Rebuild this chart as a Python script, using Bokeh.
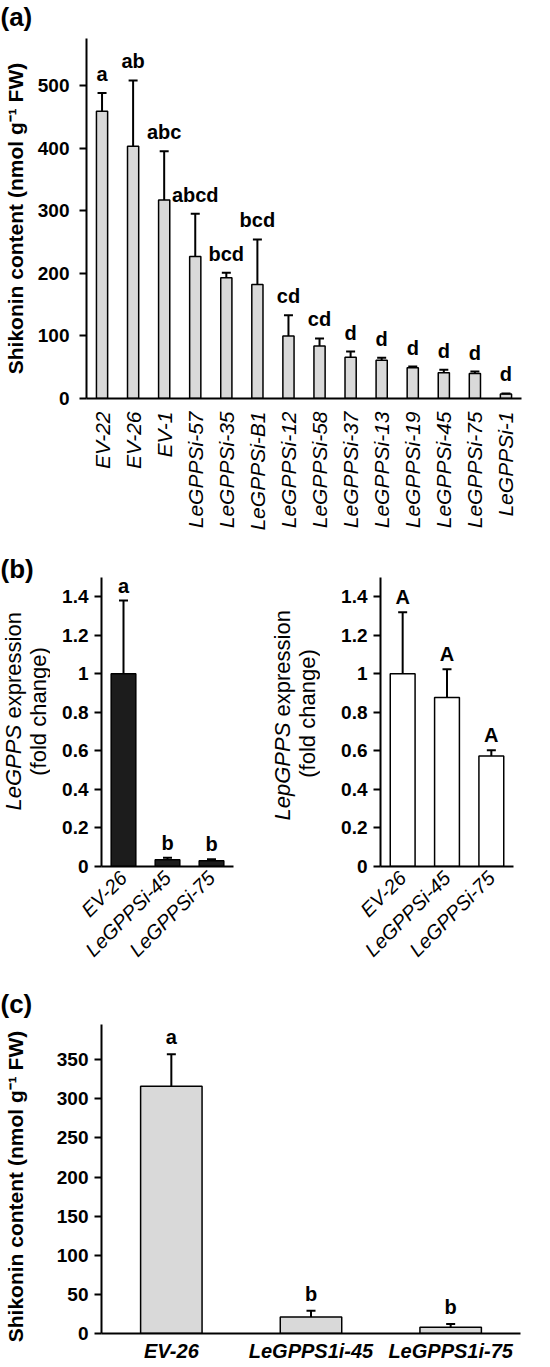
import math
from bokeh.plotting import figure
from bokeh.models import (ColumnDataSource, Range1d, FactorRange, FixedTicker,
                          LabelSet, NumeralTickFormatter)
from bokeh.layouts import column, row
from bokeh.core.properties import value
from bokeh.embed import file_html
from bokeh.resources import INLINE

FONT = "Liberation Sans"
GRAY = "#d9d9d9"

# ---------------- data ----------------
cats_a = ["EV-22", "EV-26", "EV-1", "LeGPPSi-57", "LeGPPSi-35", "LeGPPSi-B1",
          "LeGPPSi-12", "LeGPPSi-58", "LeGPPSi-37", "LeGPPSi-13", "LeGPPSi-19",
          "LeGPPSi-45", "LeGPPSi-75", "LeGPPSi-1"]
vals_a = [459, 403, 317, 227, 193, 182, 100, 84, 66, 61, 49, 41, 40, 7]
errs_a = [29, 105, 78, 68, 8, 72, 33, 12, 9, 4, 2, 5, 3, 1]
letters_a = ["a", "ab", "abc", "abcd", "bcd", "bcd", "cd", "cd", "d", "d", "d", "d", "d", "d"]
ticks_a = [0, 100, 200, 300, 400, 500]

cats_b = ["EV-26", "LeGPPSi-45", "LeGPPSi-75"]
vals_b1 = [1.0, 0.035, 0.03]
errs_b1 = [0.38, 0.01, 0.007]
letters_b1 = ["a", "b", "b"]
vals_b2 = [1.0, 0.877, 0.573]
errs_b2 = [0.32, 0.147, 0.031]
letters_b2 = ["A", "A", "A"]
ticks_b = [0, 0.2, 0.4, 0.6, 0.8, 1.0, 1.2, 1.4]

cats_c = ["EV-26", "LeGPPS1i-45", "LeGPPS1i-75"]
vals_c = [316, 21, 8]
errs_c = [41, 8, 4]
letters_c = ["a", "b", "b"]
ticks_c = [0, 50, 100, 150, 200, 250, 300, 350]

YLABEL_SHIKONIN = "Shikonin content (nmol g\u207b\u00b9 FW)"


def make_src(cats, vals, errs, letters):
    return ColumnDataSource(dict(cat=cats, val=vals,
                                 upper=[v + e for v, e in zip(vals, errs)],
                                 letter=letters))


def draw_bars(p, src, width, fill, letter_offset, cap=9):
    p.vbar(x="cat", top="val", width=width, source=src, fill_color=fill,
           line_color="black", line_width=1.5)
    p.segment(x0="cat", y0="val", x1="cat", y1="upper", source=src,
              line_color="black", line_width=2)
    p.scatter(x="cat", y="upper", marker="dash", size=cap, source=src,
              line_color="black", line_width=2)
    p.add_layout(LabelSet(x="cat", y="upper", text="letter", source=src,
                          y_offset=letter_offset, text_align="center",
                          text_baseline="alphabetic", text_font=value(FONT),
                          text_font_size="20px", text_font_style="bold",
                          text_color="black"))


def style(p, ticks, tick_std):
    p.xgrid.visible = False
    p.ygrid.visible = False
    p.outline_line_color = None
    p.background_fill_color = "white"
    p.border_fill_color = "white"
    y = p.yaxis[0]
    y.ticker = FixedTicker(ticks=ticks)
    y.axis_line_width = 2
    y.axis_line_color = "black"
    y.major_tick_line_width = 2
    y.major_tick_line_color = "black"
    y.major_tick_out = 7
    y.major_tick_in = 0
    y.minor_tick_line_color = None
    y.minor_tick_out = 0
    y.minor_tick_in = 0
    y.major_label_text_font = FONT
    y.major_label_text_font_size = "19px"
    y.major_label_text_font_style = "bold"
    y.major_label_text_color = "black"
    y.major_label_standoff = tick_std
    x = p.xaxis[0]
    x.axis_line_width = 2
    x.axis_line_color = "black"
    x.major_tick_line_color = None
    x.major_tick_out = 0
    x.major_tick_in = 0
    x.minor_tick_line_color = None
    x.major_label_text_font = FONT
    x.major_label_text_color = "black"


def text_fig(w, h, items):
    """A blank strip (no axes) whose frame is the whole canvas, holding side texts.
    items: list of (x, y, text, size, style, align, baseline, angle) in pixels from top-left."""
    f = figure(width=w, height=h, x_range=Range1d(0, w), y_range=Range1d(0, h),
               output_backend="svg", toolbar_location=None, title=None,
               x_axis_location=None, y_axis_location=None, frame_align=False,
               min_border_left=0, min_border_right=0, min_border_top=0, min_border_bottom=0)
    f.xgrid.visible = False
    f.ygrid.visible = False
    f.outline_line_color = None
    f.background_fill_color = "white"
    f.border_fill_color = "white"
    src = ColumnDataSource(dict(
        x=[it[0] for it in items], y=[h - it[1] for it in items],
        text=[it[2] for it in items], size=[it[3] for it in items],
        style=[it[4] for it in items], align=[it[5] for it in items],
        baseline=[it[6] for it in items], angle=[it[7] for it in items]))
    f.text(x="x", y="y", text="text", angle="angle", source=src,
           text_font=value(FONT), text_font_size="size", text_font_style="style",
           text_align="align", text_baseline="baseline", text_color="black")
    return f


R90 = math.pi / 2

# ---------------- panel (a) ----------------
HA = 548
ta = text_fig(34, HA, [
    (0, 1, "(a)", "26px", "bold", "left", "top", 0.0),
    (15, 218, YLABEL_SHIKONIN, "21px", "bold", "center", "middle", R90),
])

pa = figure(width=516, height=HA, x_range=FactorRange(*cats_a), y_range=Range1d(0, 575),
            output_backend="svg", toolbar_location=None, frame_align=False,
            min_border_left=52, min_border_right=29, min_border_top=38, min_border_bottom=150)
draw_bars(pa, make_src(cats_a, vals_a, errs_a, letters_a), 0.36, GRAY, 12)
style(pa, ticks_a, 10)
pa.xaxis[0].major_label_orientation = math.pi / 2
pa.xaxis[0].major_label_standoff = 13
pa.xaxis[0].major_label_text_font_size = "21px"
pa.xaxis[0].major_label_text_font_style = "italic"

# ---------------- panel (b) ----------------
HB = 430
BB = 112


def make_b(width, left, right, cats, vals, errs, letters, fill):
    p = figure(width=width, height=HB, x_range=FactorRange(*cats), y_range=Range1d(0, 1.5),
               output_backend="svg", toolbar_location=None, frame_align=False,
               min_border_left=left, min_border_right=right, min_border_top=29,
               min_border_bottom=BB)
    draw_bars(p, make_src(cats, vals, errs, letters), 0.56, fill, 8)
    style(p, ticks_b, 6)
    p.yaxis[0].formatter = NumeralTickFormatter(format="0.[0]")
    p.xaxis[0].major_label_orientation = math.pi / 4
    p.xaxis[0].major_label_standoff = 8
    p.xaxis[0].major_label_text_font_size = "20px"
    p.xaxis[0].major_label_text_font_style = "italic"
    return p


def ylab_b(gene, gene_w, x1, y1, x2, y2):
    return [
        (x1, y1, gene, "22px", "italic", "left", "middle", R90),
        (x1, y1 - gene_w, "expression", "22px", "normal", "left", "middle", R90),
        (x2, y2, "(fold change)", "22px", "normal", "center", "middle", R90),
    ]


tb1 = text_fig(50, HB, [(0, 5, "(b)", "26px", "bold", "left", "top", 0.0)]
               + ylab_b("LeGPPS", 92, 13, 262, 38, 163))
pb1 = make_b(220, 51, 37, cats_b, vals_b1, errs_b1, letters_b1, "#1c1c1c")

tb2 = text_fig(50, HB, ylab_b("LepGPPS", 104, 12, 272, 37, 165))
pb2 = make_b(230, 60, 37, cats_b, vals_b2, errs_b2, letters_b2, "white")

# ---------------- panel (c) ----------------
HC = 389
tc = text_fig(34, HC, [
    (0, 10, "(c)", "26px", "bold", "left", "top", 0.0),
    (15, 208, YLABEL_SHIKONIN, "21px", "bold", "center", "middle", R90),
])

pc = figure(width=516, height=HC, x_range=FactorRange(*cats_c), y_range=Range1d(0, 395),
            output_backend="svg", toolbar_location=None, frame_align=False,
            min_border_left=67, min_border_right=30, min_border_top=46, min_border_bottom=34)
draw_bars(pc, make_src(cats_c, vals_c, errs_c, letters_c), 0.44, GRAY, 10)
style(pc, ticks_c, 6)
pc.xaxis[0].major_label_standoff = 6
pc.xaxis[0].major_label_text_font_size = "20px"
pc.xaxis[0].major_label_text_font_style = "bold italic"

layout = column(row(ta, pa), row(tb1, pb1, tb2, pb2), row(tc, pc))
open("out.html", "w").write(file_html(layout, INLINE))
